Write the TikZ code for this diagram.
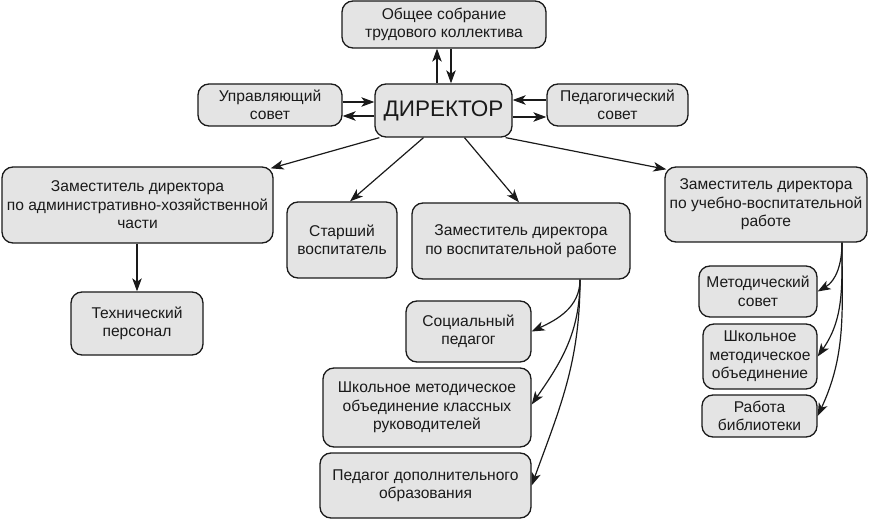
\documentclass[tikz,border=0pt]{standalone}
\usepackage{fontspec}
\setmainfont{Liberation Sans}
\usetikzlibrary{arrows.meta}
\definecolor{boxfill}{HTML}{E4E4E4}
\definecolor{ink}{HTML}{1A1A1A}
\tikzset{
  box/.style={draw=ink, fill=boxfill, line width=1.3pt, rounded corners=11pt,
    align=center, inner sep=0pt, text=ink,
    font=\fontsize{15.6}{18.5}\selectfont},
  arr/.style={draw=ink, line width=1.2pt, -{Stealth[length=13pt,width=9.5pt,inset=3.5pt]}},
}
\begin{document}
\begin{tikzpicture}[x=1pt,y=-1pt]
\useasboundingbox (0,0) rectangle (870,521);
% nodes
\node[box, minimum width=204pt, minimum height=47pt] (obs) at (444,24.5) {Общее собрание\\трудового коллектива};
\node[box, minimum width=137pt, minimum height=53pt, font=\fontsize{22.5}{26}\selectfont] (dir) at (443.5,110.5) {ДИРЕКТОР};
\node[box, minimum width=144pt, minimum height=42pt] (upr) at (270,105) {Управляющий\\совет};
\node[box, minimum width=141pt, minimum height=42pt] (ped) at (617.5,105) {Педагогический\\совет};
\node[box, minimum width=271pt, minimum height=76pt] (zadm) at (137.5,205) {Заместитель директора\\по административно-хозяйственной\\части};
\node[box, minimum width=132pt, minimum height=63pt] (tech) at (137,323.5) {Технический\\персонал};
\node[box, minimum width=110pt, minimum height=76pt] (star) at (342,240) {Старший\\воспитатель};
\node[box, minimum width=218pt, minimum height=76pt] (zvos) at (521,241) {Заместитель директора\\по воспитательной работе};
\node[box, minimum width=125pt, minimum height=61pt] (soc) at (468.5,331.5) {Социальный\\педагог};
\node[box, minimum width=208pt, minimum height=79pt] (shmo) at (427,407.5) {Школьное методическое\\объединение классных\\руководителей};
\node[box, minimum width=211pt, minimum height=65pt] (pdo) at (425.5,485.5) {Педагог дополнительного\\образования};
\node[box, minimum width=202pt, minimum height=75pt] (zuch) at (766,204.5) {Заместитель директора\\по учебно-воспитательной\\работе};
\node[box, minimum width=118pt, minimum height=51pt] (met) at (758,291.5) {Методический\\совет};
\node[box, minimum width=114pt, minimum height=65pt] (shmo2) at (760,356.5) {Школьное\\методическое\\объединение};
\node[box, minimum width=115pt, minimum height=42pt] (bib) at (759.5,416) {Работа\\библиотеки};
% top arrows
\draw[arr] ([xshift=-6.5pt]dir.north) -- ([xshift=-6.5pt]dir.north |- obs.south);
\draw[arr] ([xshift=7.5pt]dir.north |- obs.south) -- ([xshift=7.5pt]dir.north);
% side arrows
\draw[arr] ([yshift=3pt]upr.east) -- ([yshift=3pt]upr.east -| dir.west);
\draw[arr] ([yshift=-11pt]upr.east -| dir.west) -- ([yshift=-11pt]upr.east);
\draw[arr] ([yshift=5pt]ped.west) -- ([yshift=5pt]ped.west -| dir.east);
\draw[arr] ([yshift=-12pt]ped.west -| dir.east) -- ([yshift=-12pt]ped.west);
% director down
\draw[arr] ([xshift=5pt]dir.south west) -- ([xshift=-3pt,yshift=-2pt]zadm.north east);
\draw[arr] ([xshift=-20pt]dir.south) -- ([xshift=8pt]star.north);
\draw[arr] ([xshift=21pt]dir.south) -- ([xshift=-2pt]zvos.north);
\draw[arr] ([xshift=-7pt]dir.south east) -- ([xshift=2pt,yshift=-3pt]zuch.north west);
\draw[arr] (zadm.south -| tech.north) -- (tech.north);
% curves from zvos
\coordinate (zv) at ([xshift=59pt]zvos.south);
\draw[arr] (zv) to[out=-90,in=25] (soc.east);
\draw[arr] (zv) to[out=-90,in=55] ([yshift=3pt]shmo.east);
\draw[arr] (zv) to[out=-90,in=70] (pdo.east);
% curves from zuch
\coordinate (zu) at ([xshift=76pt]zuch.south);
\draw[arr] (zu) to[out=-90,in=30] (met.east);
\draw[arr] (zu) to[out=-90,in=55] (shmo2.east);
\draw[arr] (zu) to[out=-90,in=65] (bib.east);
\end{tikzpicture}
\end{document}
